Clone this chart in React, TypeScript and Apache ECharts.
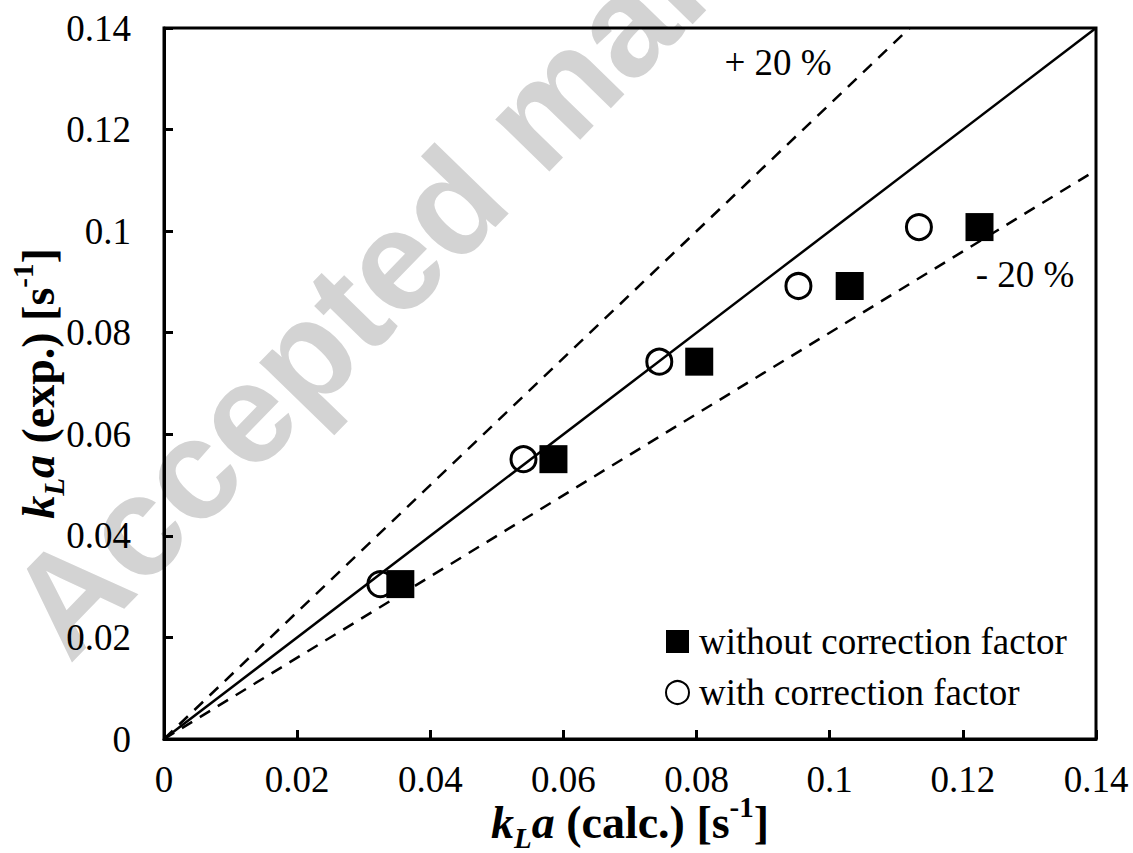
import React, { useEffect, useRef } from "react";
import * as echarts from "echarts";

const withoutCorrX = [0.0355, 0.0585, 0.0804, 0.103, 0.1225];
const withoutCorrY = [0.0305, 0.0551, 0.0743, 0.0892, 0.1008];
const withCorrX = [0.0325, 0.054, 0.0744, 0.0953, 0.1134];
const withCorrY = [0.0305, 0.0551, 0.0743, 0.0892, 0.1008];
const identityLine = [[0, 0], [0.14, 0.14]];
const upperLine = [[0, 0], [0.112, 0.14]];
const lowerLine = [[0, 0], [0.14, 0.112]];
const seriesNames = ["without correction factor", "with correction factor"];
const bandLabels = ["+ 20 %", "- 20 %"];

const FONT = "'Liberation Serif', 'Times New Roman', serif";

export default function App() {
  const ref = useRef<HTMLDivElement>(null);
  useEffect(() => {
    document.body.style.margin = "0";
    const chart = echarts.init(ref.current!, null, { renderer: "svg" });
    const titleRich = {
      k: { fontSize: 46, fontWeight: "bold", fontStyle: "italic", fontFamily: FONT, color: "#000", lineHeight: 60, verticalAlign: "middle" },
      sub: { fontSize: 29, fontWeight: "bold", fontStyle: "italic", fontFamily: FONT, color: "#000", lineHeight: 29, verticalAlign: "bottom" },
      t: { fontSize: 46, fontWeight: "bold", fontFamily: FONT, color: "#000", lineHeight: 60, verticalAlign: "middle" },
      sup: { fontSize: 29, fontWeight: "bold", fontFamily: FONT, color: "#000", lineHeight: 40, verticalAlign: "top" },
    };
    const axisCommon = {
      type: "value",
      min: 0,
      max: 0.14,
      interval: 0.02,
      splitLine: { show: false },
      axisLine: { show: true, onZero: false, lineStyle: { color: "#000", width: 3 } },
      axisTick: { show: true, inside: true, length: 9, lineStyle: { color: "#000", width: 3 } },
      nameLocation: "middle",
      nameMoveOverlap: false,
    };
    chart.setOption({
      animation: false,
      backgroundColor: "#fff",
      grid: {
        left: 164, top: 28, right: 37, bottom: 114,
        outerBoundsMode: "none", containLabel: false,
        show: true, borderColor: "#000", borderWidth: 3, backgroundColor: "transparent",
      },
      xAxis: {
        ...axisCommon,
        name: "{k|k}{sub|L}{k|a}{t| (calc.) [s}{sup|-1}{t|]}",
        nameGap: 53,
        nameTextStyle: { rich: titleRich },
        axisLabel: { fontSize: 37, fontFamily: FONT, color: "#000", margin: 22, formatter: (v: number) => String(+v.toFixed(2)) },
      },
      yAxis: {
        ...axisCommon,
        name: "{k|k}{sub|L}{k|a}{t| (exp.) [s}{sup|-1}{t|]}",
        nameGap: 96,
        nameTextStyle: { rich: titleRich },
        axisLabel: { fontSize: 37, fontFamily: FONT, color: "#000", margin: 33, formatter: (v: number) => String(+v.toFixed(2)) },
      },
      legend: {
        orient: "vertical",
        left: 660,
        top: 618,
        itemWidth: 23,
        itemHeight: 23,
        itemGap: 14,
        data: [seriesNames[0], seriesNames[1]],
        textStyle: { fontSize: 37, fontFamily: FONT, color: "#000", padding: [0, 0, 0, 5] },
      },
      graphic: [
        {
          type: "text",
          x: 85,
          y: 680,
          rotation: 0.8,
          z: -10,
          silent: true,
          style: { text: "Accepted manuscript", fontSize: 142, fontWeight: "bold", fontFamily: "'Liberation Sans', Arial, sans-serif", fill: "#d3d3d3", textAlign: "left", textVerticalAlign: "bottom" },
        },
        {
          type: "text",
          x: 778,
          y: 62,
          style: { text: bandLabels[0], fontSize: 37, fontFamily: FONT, fill: "#000", textAlign: "center", textVerticalAlign: "middle" },
        },
        {
          type: "text",
          x: 1025,
          y: 274,
          style: { text: bandLabels[1], fontSize: 37, fontFamily: FONT, fill: "#000", textAlign: "center", textVerticalAlign: "middle" },
        },
      ],
      series: [
        { type: "line", data: identityLine, symbol: "none", lineStyle: { color: "#000", width: 2.5 }, silent: true, z: 2 },
        { type: "line", data: upperLine, symbol: "none", lineStyle: { color: "#000", width: 2.5, type: [12, 9] }, silent: true, z: 2 },
        { type: "line", data: lowerLine, symbol: "none", lineStyle: { color: "#000", width: 2.5, type: [12, 9] }, silent: true, z: 2 },
        {
          name: seriesNames[1],
          type: "scatter",
          symbol: "circle",
          symbolSize: 25,
          data: withCorrX.map((x, i) => [x, withCorrY[i]]),
          itemStyle: { color: "rgba(255,255,255,0)", borderColor: "#000", borderWidth: 3, opacity: 1 },
          z: 3,
        },
        {
          name: seriesNames[0],
          type: "scatter",
          symbol: "rect",
          symbolSize: 28,
          data: withoutCorrX.map((x, i) => [x, withoutCorrY[i]]),
          itemStyle: { color: "#000", opacity: 1 },
          z: 4,
        },
      ],
    });
    return () => chart.dispose();
  }, []);
  return <div ref={ref} style={{ width: 1133, height: 853 }} />;
}
